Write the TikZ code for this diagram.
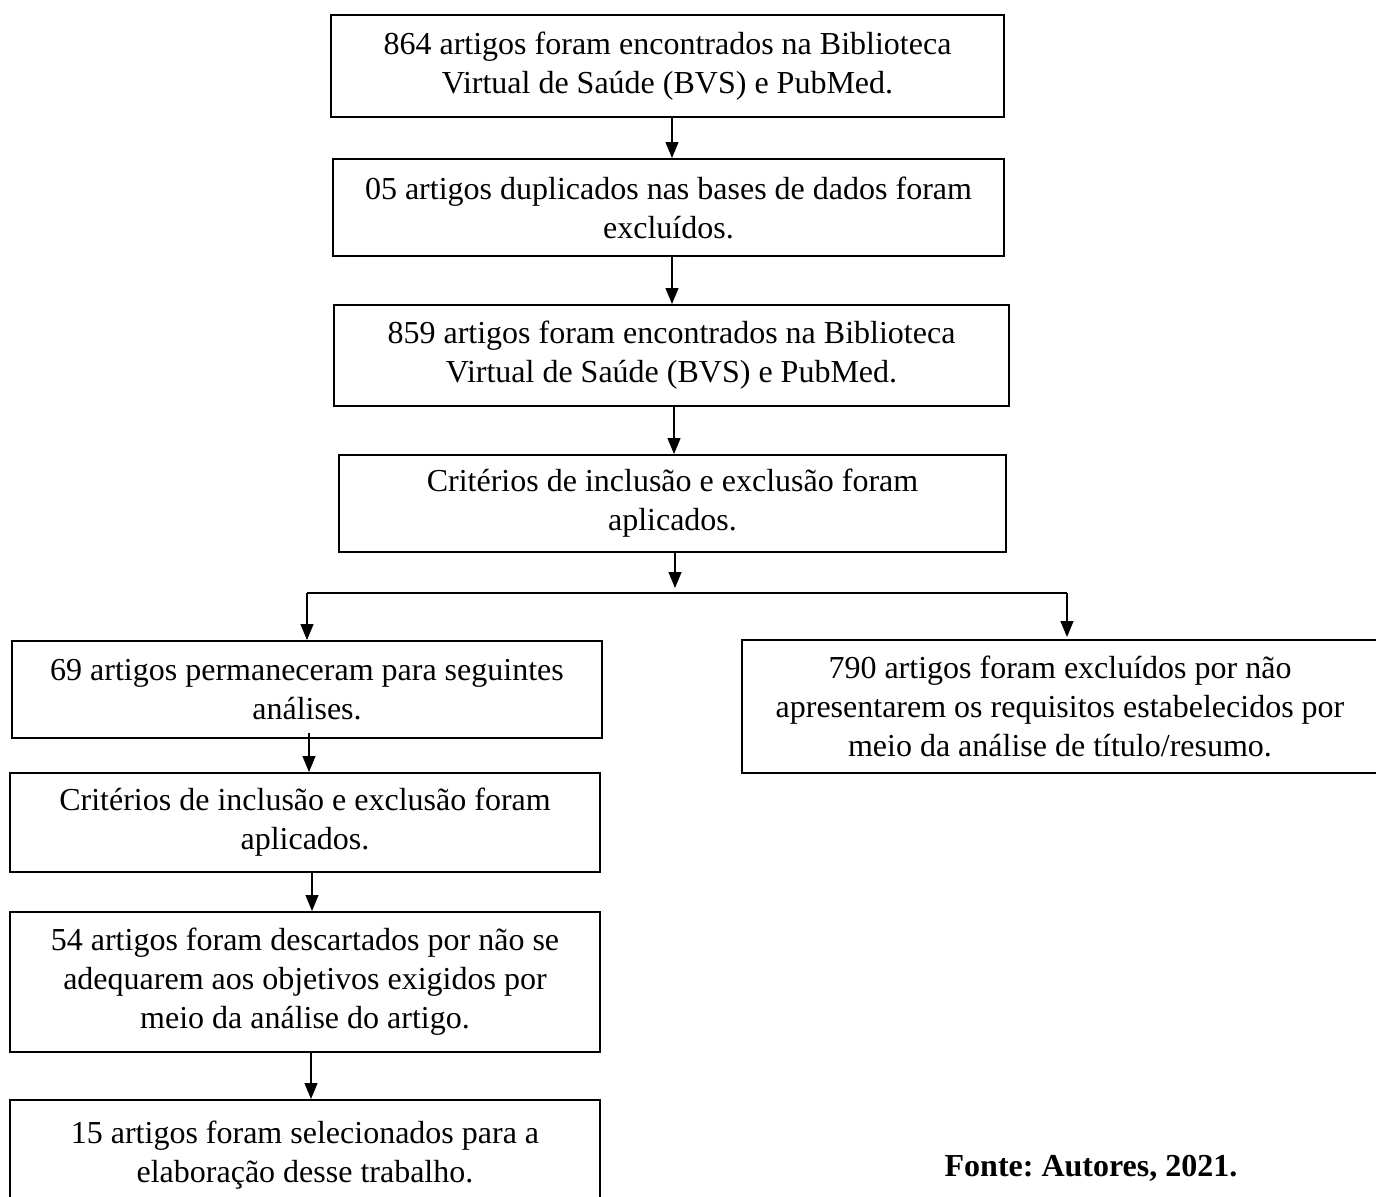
\documentclass[tikz,border=0pt]{standalone}
\usepackage{fontspec}
\setmainfont{Liberation Serif}
\usetikzlibrary{arrows.meta}
\frenchspacing
\begin{document}
\begin{tikzpicture}[x=0.5pt,y=-0.5pt,
  box/.style={draw,line width=1pt,rectangle,inner sep=0pt,align=center,
    font=\fontsize{16pt}{19.5pt}\selectfont},
  arr/.style={line width=0.6pt,-{Triangle[length=8pt,width=6.5pt]}},
  ln/.style={line width=0.6pt}]
\useasboundingbox (0,0) rectangle (1376,1196);
\node[box,minimum width=336.5pt,minimum height=51pt] (b1) at (667.5,66)
  {864 artigos foram encontrados na Biblioteca\\Virtual de Saúde (BVS) e PubMed.};
\node[box,minimum width=335.5pt,minimum height=48.5pt] (b2) at (668.5,207.5)
  {05 artigos duplicados nas bases de dados foram\\excluídos.};
\node[box,minimum width=337.5pt,minimum height=50.5pt] (b3) at (671.5,355.5)
  {859 artigos foram encontrados na Biblioteca\\Virtual de Saúde (BVS) e PubMed.};
\node[box,minimum width=333.5pt,minimum height=48.5pt] (b4) at (672.5,503.5)
  {Critérios de inclusão e exclusão foram\\aplicados.};
\node[box,minimum width=295pt,minimum height=48.5pt] (b5) at (307,689.5)
  {69 artigos permaneceram para seguintes\\análises.};
\node[box,minimum width=318pt,minimum height=66.5pt] (br) at (1060,706.5)
  {790 artigos foram excluídos por não\\apresentarem os requisitos estabelecidos por\\meio da análise de título/resumo.};
\node[box,minimum width=295pt,minimum height=49.5pt] (b6) at (305,822.5)
  {Critérios de inclusão e exclusão foram\\aplicados.};
\node[box,minimum width=295pt,minimum height=70pt] (b7) at (305,982)
  {54 artigos foram descartados por não se\\adequarem aos objetivos exigidos por\\meio da análise do artigo.};
\node[box,minimum width=295pt,minimum height=55pt] (b8) at (305,1155)
  {15 artigos foram selecionados para a\\elaboração desse trabalho.};
\node[font=\fontsize{16pt}{19pt}\selectfont\bfseries] (fonte) at (1091,1168) {Fonte: Autores, 2021.};
\coordinate (sp) at (675,593);
\coordinate (spl) at (307,593);
\coordinate (spr) at (1067,593);
\draw[arr] (b1.south -| 672,0) -- (672,0 |- b2.north);
\draw[arr] (b2.south -| 672,0) -- (672,0 |- b3.north);
\draw[arr] (b3.south -| 674,0) -- (674,0 |- b4.north);
\draw[arr] (b4.south -| sp) -- ([yshift=2.5pt]sp);
\draw[ln] (spl) -- (spr);
\draw[arr] (spl) -- (spl |- b5.north);
\draw[arr] (spr) -- ([yshift=1pt]spr |- br.north);
\draw[arr] ([yshift=3pt]b5.south -| 309,0) -- (309,0 |- b6.north);
\draw[arr] (b6.south -| 312,0) -- (312,0 |- b7.north);
\draw[arr] (b7.south -| 311,0) -- (311,0 |- b8.north);
\end{tikzpicture}
\end{document}
